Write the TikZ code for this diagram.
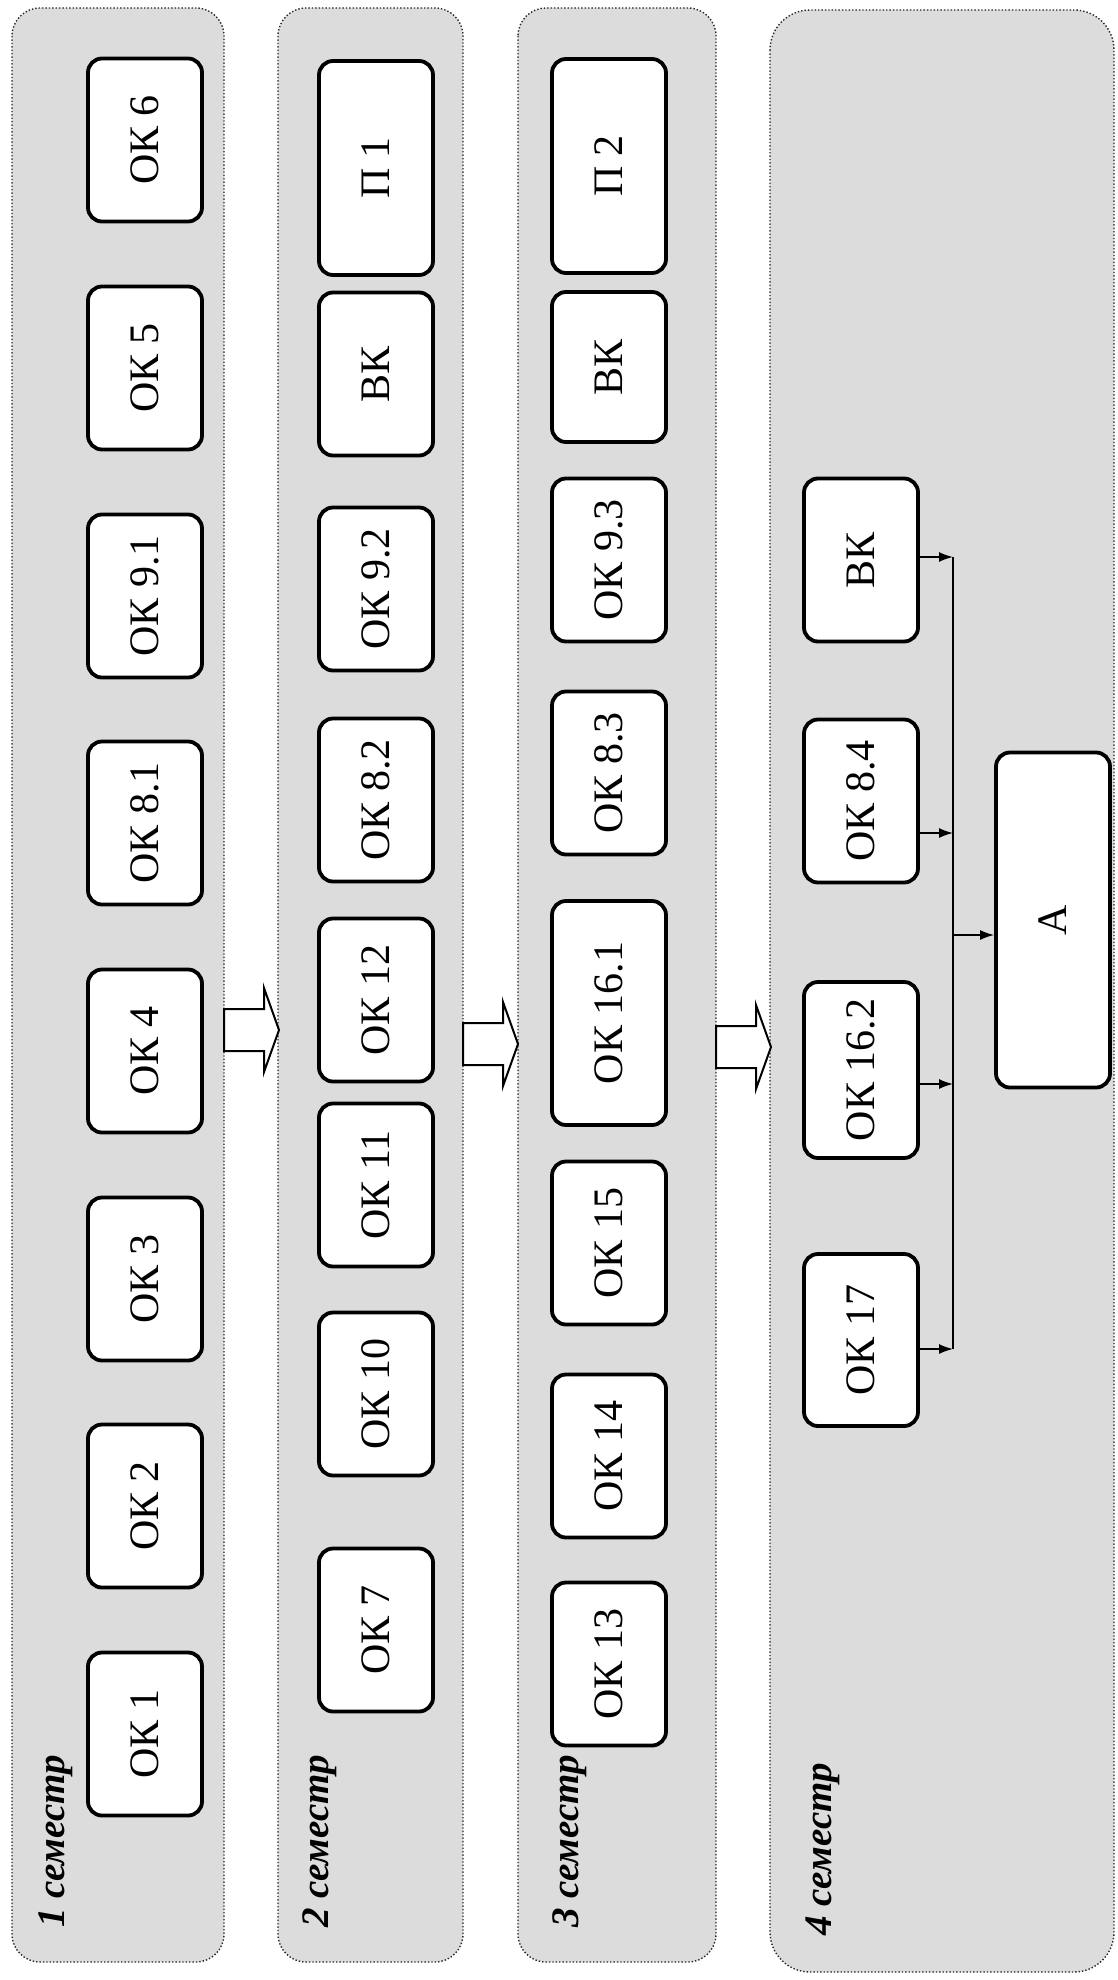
\documentclass[tikz,border=0pt]{standalone}
\usepackage{fontspec}
\setmainfont{Liberation Serif}
\usepackage{graphicx}
\usetikzlibrary{arrows.meta}
\definecolor{panelgray}{RGB}{220,220,220}
\tikzset{
  panel/.style={draw=black!85, densely dotted, line width=0.7pt, fill=panelgray, rounded corners=14pt},
  box/.style={draw, line width=1.9pt, rounded corners=7pt, fill=white, minimum width=57pt, minimum height=81.5pt, inner sep=0pt, font=\fontsize{21}{25}\selectfont},
  tallbox/.style={box, minimum height=107pt},
  semlabel/.style={rotate=90, anchor=west, inner sep=0pt, font=\fontsize{19.5}{23}\selectfont\bfseries\itshape},
  blockarrow/.style={draw, line width=1pt, fill=white},
  feed/.style={line width=0.8pt, -{Latex[length=7pt,width=5pt]}}
}
\begin{document}
\begin{tikzpicture}[x=0.5pt, y=-0.5pt]
  \useasboundingbox (0,0) rectangle (1118,1980);
  % semester panels
  \draw[panel] (12,8) rectangle (224,1962);
  \draw[panel] (278,8) rectangle (463,1962);
  \draw[panel] (518,8) rectangle (716,1962);
  \draw[panel, rounded corners=20pt] (770,10) rectangle (1114,1972);
  % block arrows between panels
  \foreach \xa/\yc in {224/1030, 463/1044, 716/1047}
    \draw[blockarrow] (\xa,\yc-21) -- ++(40,0) -- ++(0,-21) -- ++(15,42)
      -- ++(-15,42) -- ++(0,-21) -- ++(-40,0) -- cycle;
  % 1 semester
  \node[box] (ok6) at (145,140) {\rotatebox{90}{ОК 6}};
  \node[box] (ok5) at (145,368) {\rotatebox{90}{ОК 5}};
  \node[box] (ok91) at (145,596) {\rotatebox{90}{ОК 9.1}};
  \node[box] (ok81) at (145,823) {\rotatebox{90}{ОК 8.1}};
  \node[box] (ok4) at (145,1051) {\rotatebox{90}{ОК 4}};
  \node[box] (ok3) at (145,1279) {\rotatebox{90}{ОК 3}};
  \node[box] (ok2) at (145,1506) {\rotatebox{90}{ОК 2}};
  \node[box] (ok1) at (145,1734) {\rotatebox{90}{ОК 1}};
  \node[semlabel] (lab1) at (56,1928) {1 семестр};
  % 2 semester
  \node[tallbox] (p1) at (376,168) {\rotatebox{90}{П 1}};
  \node[box] (vk2) at (376,374) {\rotatebox{90}{ВК}};
  \node[box] (ok92) at (376,589) {\rotatebox{90}{ОК 9.2}};
  \node[box] (ok82) at (376,800) {\rotatebox{90}{ОК 8.2}};
  \node[box] (ok12) at (376,1000) {\rotatebox{90}{ОК 12}};
  \node[box] (ok11) at (376,1185) {\rotatebox{90}{ОК 11}};
  \node[box] (ok10) at (376,1394) {\rotatebox{90}{ОК 10}};
  \node[box] (ok7) at (376,1630) {\rotatebox{90}{ОК 7}};
  \node[semlabel] (lab2) at (320,1928) {2 семестр};
  % 3 semester
  \node[tallbox] (p2) at (609,166) {\rotatebox{90}{П 2}};
  \node[box, minimum height=75pt] (vk3) at (609,367) {\rotatebox{90}{ВК}};
  \node[box] (ok93) at (609,560) {\rotatebox{90}{ОК 9.3}};
  \node[box] (ok83) at (609,773) {\rotatebox{90}{ОК 8.3}};
  \node[box, minimum height=112pt] (ok161) at (609,1013) {\rotatebox{90}{ОК 16.1}};
  \node[box] (ok15) at (609,1243) {\rotatebox{90}{ОК 15}};
  \node[box] (ok14) at (609,1456) {\rotatebox{90}{ОК 14}};
  \node[box] (ok13) at (609,1664) {\rotatebox{90}{ОК 13}};
  \node[semlabel] (lab3) at (570,1928) {3 семестр};
  % 4 semester
  \node[box] (vk4) at (861,560) {\rotatebox{90}{ВК}};
  \node[box] (ok84) at (861,801) {\rotatebox{90}{ОК 8.4}};
  \node[box, minimum height=88pt] (ok162) at (861,1070) {\rotatebox{90}{ОК 16.2}};
  \node[box, minimum height=86pt] (ok17) at (861,1340) {\rotatebox{90}{ОК 17}};
  \node[box, minimum height=167.5pt] (att) at (1053,920) {\rotatebox{90}{А}};
  \node[semlabel] (lab4) at (823,1936) {4 семестр};
  % collecting line
  \coordinate (b1) at (953,557);
  \coordinate (b2) at (953,833);
  \coordinate (b3) at (953,1084);
  \coordinate (b4) at (953,1349);
  \coordinate (bm) at (953,935);
  \draw[line width=0.7pt] (b1) -- (b4);
  \draw[feed] (vk4.east |- b1) -- (b1);
  \draw[feed] (ok84.east |- b2) -- (b2);
  \draw[feed] (ok162.east |- b3) -- (b3);
  \draw[feed] (ok17.east |- b4) -- (b4);
  \draw[feed] (bm) -- (bm -| att.west);
\end{tikzpicture}
\end{document}
